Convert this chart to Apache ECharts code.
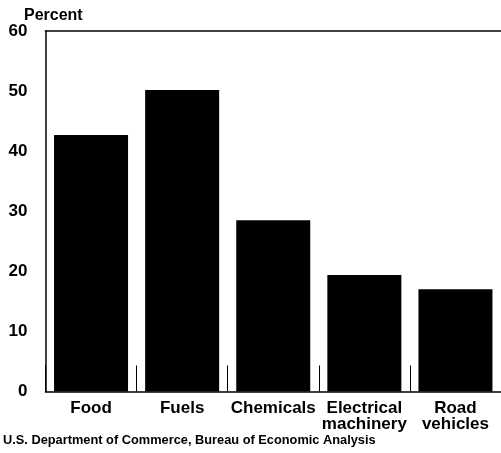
<!DOCTYPE html>
<html>
<head>
<meta charset="utf-8">
<script src="https://cdn.jsdelivr.net/npm/echarts@6/dist/echarts.min.js"></script>
<style>
html,body{margin:0;padding:0;background:#fff;}
#chart{width:501px;height:453px;}
</style>
</head>
<body>
<div id="chart"></div>
<script>
var categories = ['Food', 'Fuels', 'Chemicals', 'Electrical\nmachinery', 'Road\nvehicles'];
var values = [42.7, 50.2, 28.5, 19.4, 17.0];
var yTicks = [0, 10, 20, 30, 40, 50, 60];
var unitLabel = 'Percent';
var sourceText = 'U.S. Department of Commerce, Bureau of Economic Analysis';

var FONT = '"Liberation Sans", Arial, sans-serif';
var chart = echarts.init(document.getElementById('chart'), null, {renderer: 'canvas'});
chart.setOption({
  animation: false,
  backgroundColor: '#fff',
  grid: {
    left: 45.5, right: 0, top: 31, bottom: 61.5, show: false
  },
  xAxis: [{
    type: 'category',
    data: categories,
    boundaryGap: true,
    axisLine: {show: true, lineStyle: {color: '#000', width: 1.5}},
    axisTick: {show: true, inside: true, length: 26, alignWithLabel: false, lineStyle: {color: '#000', width: 1}},
    axisLabel: {
      color: '#000', fontFamily: FONT, fontWeight: 'bold', fontSize: 17,
      margin: 9, lineHeight: 16, interval: 0
    }
  }, {
    type: 'category',
    position: 'top',
    data: categories,
    axisLine: {show: true, lineStyle: {color: '#000', width: 1.5}},
    axisTick: {show: false},
    axisLabel: {show: false}
  }],
  yAxis: {
    type: 'value',
    min: yTicks[0], max: yTicks[yTicks.length - 1], interval: 10,
    axisLine: {show: true, lineStyle: {color: '#000', width: 1.5}},
    axisTick: {show: false},
    splitLine: {show: false},
    axisLabel: {color: '#000', fontFamily: FONT, fontWeight: 'bold', fontSize: 17, margin: 18}
  },
  series: [{
    type: 'bar',
    data: values,
    barWidth: 74,
    itemStyle: {color: '#000'}
  }],
  graphic: [
    {type: 'text', left: 24, top: 8, style: {text: unitLabel, fill: '#000', font: 'bold 16px ' + FONT}},
    {type: 'text', left: 3, top: 434, style: {text: sourceText, fill: '#000', font: 'bold 12.8px ' + FONT}}
  ]
});
</script>
</body>
</html>
